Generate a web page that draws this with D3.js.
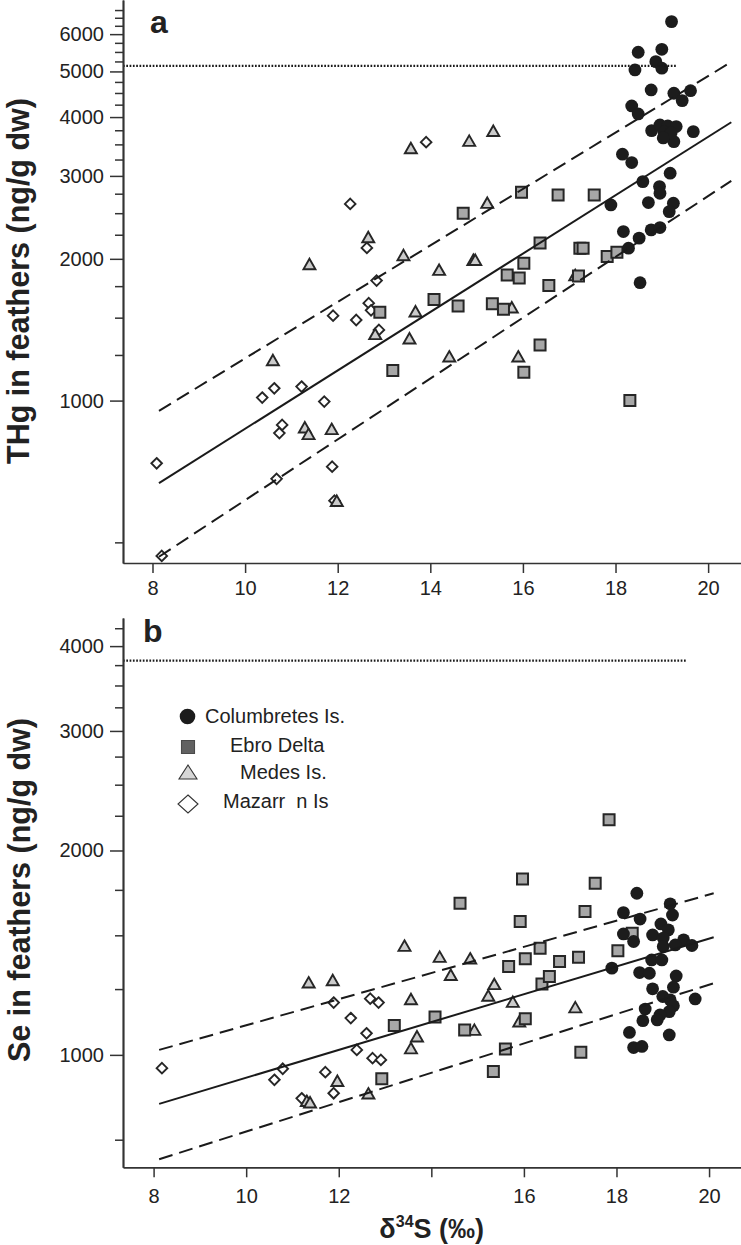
<!DOCTYPE html>
<html><head><meta charset="utf-8">
<script src="https://cdn.jsdelivr.net/npm/d3@7"></script>
<style>
html,body{margin:0;padding:0;background:#fff;}
svg{display:block;}
text{font-family:"Liberation Sans",Arial,Helvetica,sans-serif;fill:#222;}
</style></head><body>
<svg id="chart" width="741" height="1245"></svg>
<script>
// ---------------- DATA ----------------
const xTickValues = [8, 10, 12, 14, 16, 18, 20];
const xTickLabelsA = ["8", "10", "12", "14", "16", "18", "20"];
const xTickLabelsB = ["8", "10", "12", "", "16", "18", "20"];

const yMajorA = [1000, 2000, 3000, 4000, 5000, 6000];
const yMinorA = [500, 1250, 1500, 1750, 2250, 2500, 2750, 3250, 3500, 3750, 4250, 4500, 4750, 5250, 5500, 5750, 6250, 6500, 6750];
const yMajorB = [1000, 2000, 3000, 4000];
const yMinorB = [750, 1250, 1500, 1750, 2250, 2500, 2750, 3250, 3500, 3750, 4250];

const groups = ["Columbretes Is.", "Ebro Delta", "Medes Is.", "Mazarr  n Is"];

// Panel a: THg (ng/g dw) vs d34S
const columbretesA = [[19.21,6378],[18.49,5492],[19.00,5572],[18.42,5036],[18.87,5245],[19.00,5080],[18.77,4567],[19.26,4494],[19.62,4550],[19.44,4335],[18.35,4224],[18.49,4062],[18.78,3743],[18.96,3848],[19.13,3829],[19.31,3818],[19.11,3665],[19.26,3547],[19.05,3720],[19.20,3700],[19.03,3613],[19.68,3725],[18.15,3336],[18.35,3202],[19.18,3040],[18.59,2917],[18.95,2847],[18.96,2756],[17.90,2603],[18.71,2633],[19.25,2625],[19.16,2519],[18.17,2285],[18.51,2213],[18.77,2304],[18.96,2330],[18.28,2107],[18.53,1780]];
const ebroA = [[12.91,1541],[13.19,1158],[14.08,1640],[14.60,1589],[14.71,2500],[15.34,1605],[15.58,1563],[15.66,1849],[15.92,1820],[15.97,2770],[16.02,1957],[16.02,1149],[16.37,2160],[16.37,1313],[16.56,1755],[16.76,2734],[17.20,1840],[17.23,2107],[17.30,2107],[17.54,2734],[17.82,2022],[18.03,2065],[18.31,1000]];
const medesA = [[10.60,1214],[11.29,874],[11.37,846],[11.87,867],[11.98,610],[11.39,1941],[12.66,2215],[12.81,1379],[13.42,2028],[13.55,1350],[13.58,3422],[13.68,1541],[14.19,1888],[14.41,1236],[14.84,3548],[14.93,1982],[14.97,1982],[15.23,2620],[15.36,3725],[15.76,1571],[15.90,1236],[17.13,1840]];
const mazarronA = [[8.09,736],[8.20,468],[10.37,1015],[10.63,1062],[10.68,682],[10.74,853],[10.80,888],[11.22,1071],[11.71,995],[11.88,724],[11.90,1515],[11.93,613],[12.27,2616],[12.40,1483],[12.63,2110],[12.67,1610],[12.72,1555],[12.84,1798],[12.89,1413],[13.91,3538]];

// Panel b: Se (ng/g dw) vs d34S
const columbretesB = [[18.44,1730],[18.15,1620],[19.16,1669],[19.21,1607],[18.51,1585],[18.96,1559],[19.12,1528],[18.15,1507],[18.37,1469],[18.78,1502],[19.01,1486],[19.01,1444],[19.45,1477],[19.27,1452],[19.63,1449],[18.76,1380],[18.98,1380],[17.90,1342],[18.50,1322],[18.71,1319],[19.29,1307],[19.23,1258],[18.78,1251],[19.00,1219],[19.16,1205],[19.70,1209],[19.23,1181],[18.62,1168],[19.14,1158],[18.94,1145],[18.57,1123],[18.88,1126],[18.28,1079],[19.14,1070],[18.37,1025],[18.55,1029]];
const ebroB = [[12.93,922],[13.20,1105],[14.08,1137],[14.62,1673],[14.72,1088],[15.34,945],[15.60,1020],[15.67,1349],[15.92,1572],[15.97,1816],[16.03,1385],[16.03,1130],[16.35,1436],[16.39,1272],[16.55,1304],[16.77,1372],[17.18,1393],[17.23,1009],[17.32,1626],[17.54,1790],[17.84,2219],[18.03,1424],[18.34,1511]];
const medesB = [[11.35,1275],[11.87,1285],[11.97,913],[11.31,853],[11.38,849],[12.64,875],[13.42,1444],[14.18,1391],[14.84,1383],[14.42,1308],[15.36,1268],[15.23,1219],[13.56,1205],[15.76,1194],[17.11,1172],[15.90,1117],[14.93,1086],[13.69,1062],[13.56,1020]];
const mazarronB = [[8.18,956],[10.61,919],[10.79,954],[11.20,863],[11.71,943],[11.89,878],[11.89,1194],[12.26,1133],[12.39,1017],[12.68,1210],[12.86,1194],[12.60,1076],[12.73,989],[12.91,983]];

// regression line and prediction bands (end points)
const fitXA = [8.14, 20.5];
const fitA = [668, 3900];
const upperA = [951, 5237];
const lowerA = [466, 2928];
const fitXB = [8.12, 20.1];
const fitB = [847, 1490];
const upperB = [1017, 1730];
const lowerB = [702, 1275];

// threshold (dotted) lines
const thrA = 5140, thrEndA = 19.32;
const thrB = 3808, thrEndB = 19.5;

// ---------------- DRAWING ----------------
const svg = d3.select("#chart");
const INK = "#262626";

const shapes = {
  circle: d3.symbol().type(d3.symbolCircle).size(Math.PI * 6.4 * 6.4)(),
  square: "M-5.5,-5.5H5.5V5.5H-5.5Z",
  triangle: "M0,-6.2L6,4.3H-6Z",
  diamond: "M0,-5.3L5.3,0L0,5.3L-5.3,0Z"
};

function drawPanel(cfg) {
  const x = d3.scaleLinear().domain(cfg.xDomain).range([123, 741]);
  const y = d3.scaleLog().domain(cfg.yDomain).range([cfg.yBottom, cfg.yTop]);
  const g = svg.append("g");

  // markers
  const series = [
    {data: cfg.mazarron, d: shapes.diamond, fill: "#fff", stroke: INK, sw: 1.9},
    {data: cfg.medes, d: shapes.triangle, fill: "#cbcbcb", stroke: INK, sw: 1.9},
    {data: cfg.ebro, d: shapes.square, fill: "#a7a7a7", stroke: INK, sw: 2},
    {data: cfg.columbretes, d: shapes.circle, fill: "#1c1c1c", stroke: "none", sw: 0}
  ];
  series.forEach(s => {
    g.append("g").selectAll("path").data(s.data).join("path")
      .attr("d", s.d)
      .attr("transform", d => `translate(${x(d[0])},${y(d[1])})`)
      .attr("fill", s.fill).attr("stroke", s.stroke).attr("stroke-width", s.sw);
  });

  // lines
  const line = d3.line().x(d => x(d[0])).y(d => y(d[1]));
  const mk = vals => cfg.fitX.map((xv, i) => [xv, vals[i]]);
  g.append("path").attr("d", line(mk(cfg.fit))).attr("fill", "none").attr("stroke", "#1a1a1a").attr("stroke-width", 2);
  [cfg.upper, cfg.lower].forEach(v => {
    g.append("path").attr("d", line(mk(v))).attr("fill", "none").attr("stroke", "#1a1a1a")
      .attr("stroke-width", 2).attr("stroke-dasharray", "14,7");
  });
  g.append("path").attr("d", line([[cfg.xDomain[0], cfg.thr], [cfg.thrEnd, cfg.thr]]))
    .attr("fill", "none").attr("stroke", "#1a1a1a").attr("stroke-width", 2.2).attr("stroke-dasharray", "1.7,1.6");

  // y axis: minor ticks
  const yMinorAxis = d3.axisLeft(y).tickValues(cfg.yMinor).tickSize(8).tickSizeOuter(0).tickFormat("");
  const gm = g.append("g").attr("transform", "translate(123,0)").call(yMinorAxis);
  // y axis: major ticks
  const yMajorAxis = d3.axisLeft(y).tickValues(cfg.yMajor).tickSize(13).tickSizeOuter(0).tickPadding(6).tickFormat(d3.format("d"));
  const gy = g.append("g").attr("transform", "translate(123,0)").call(yMajorAxis);
  // x axis
  const xAxis = d3.axisBottom(x).tickValues(xTickValues).tickSize(10).tickSizeOuter(0)
    .tickPadding(cfg.xPad).tickFormat((d, i) => cfg.xLabels[i]);
  const gx = g.append("g").attr("transform", `translate(0,${cfg.yBottom})`).call(xAxis);

  [gm, gy, gx].forEach(a => {
    a.selectAll("path.domain").attr("stroke", "#333").attr("stroke-width", 1.7);
    a.selectAll("line").attr("stroke", "#333").attr("stroke-width", 1.5);
    a.selectAll("text").attr("font-size", 20).attr("fill", "#222")
      .attr("font-family", '"Liberation Sans",Arial,sans-serif');
  });

  // panel letter
  g.append("text").attr("x", cfg.letterX).attr("y", cfg.letterY).attr("font-size", 32)
    .attr("font-weight", "bold").text(cfg.letter);

  // y label
  g.append("text").attr("transform", `translate(${cfg.ylabX},${cfg.ylabY}) rotate(-90)`)
    .attr("text-anchor", "middle").attr("font-size", 30.5).attr("font-weight", "bold")
    .text(cfg.ylabel);
  return {x, y};
}

drawPanel({
  xDomain: [7.363, 20.71], yDomain: [452, 7090], yBottom: 563, yTop: 0,
  yMajor: yMajorA, yMinor: yMinorA, xLabels: xTickLabelsA, xPad: 8,
  columbretes: columbretesA, ebro: ebroA, medes: medesA, mazarron: mazarronA,
  fitX: fitXA, fit: fitA, upper: upperA, lower: lowerA, thr: thrA, thrEnd: thrEndA,
  letter: "a", letterX: 150, letterY: 33,
  ylabel: "THg in feathers (ng/g dw)", ylabX: 29, ylabY: 281
});

drawPanel({
  xDomain: [7.339, 20.69], yDomain: [683, 4400], yBottom: 1167.3, yTop: 618,
  yMajor: yMajorB, yMinor: yMinorB, xLabels: xTickLabelsB, xPad: 12,
  columbretes: columbretesB, ebro: ebroB, medes: medesB, mazarron: mazarronB,
  fitX: fitXB, fit: fitB, upper: upperB, lower: lowerB, thr: thrB, thrEnd: thrEndB,
  letter: "b", letterX: 143, letterY: 641.5,
  ylabel: "Se in feathers (ng/g dw)", ylabX: 30, ylabY: 890
});

// legend (panel b)
const legend = svg.append("g");
const legendSymbols = [
  {d: d3.symbol().type(d3.symbolCircle).size(Math.PI * 7.8 * 7.8)(), fill: "#1c1c1c", stroke: "none", cx: 187.5, cy: 716.5, tx: 205, ty: 723},
  {d: "M-6.5,-6.5H6.5V6.5H-6.5Z", fill: "#616161", stroke: "#4a4a4a", cx: 188, cy: 747, tx: 230, ty: 752},
  {d: "M0,-8L9,6H-9Z", fill: "#d6d6d6", stroke: "#333", cx: 188, cy: 773, tx: 240, ty: 779},
  {d: "M0,-9L10,0L0,9L-10,0Z", fill: "#fff", stroke: "#333", cx: 188, cy: 804, tx: 223, ty: 808}
];
legendSymbols.forEach((s, i) => {
  legend.append("path").attr("d", s.d).attr("transform", `translate(${s.cx},${s.cy})`)
    .attr("fill", s.fill).attr("stroke", s.stroke).attr("stroke-width", 1.1);
  legend.append("text").attr("x", s.tx).attr("y", s.ty).attr("font-size", 20)
    .style("white-space", "pre").text(groups[i]);
});

// x axis title
const xt = svg.append("text").attr("x", 431.7).attr("y", 1238).attr("text-anchor", "middle")
  .attr("font-weight", "bold").attr("font-size", 27);
xt.append("tspan").text("δ");
xt.append("tspan").attr("font-size", 16).attr("dy", -11).text("34");
xt.append("tspan").attr("dy", 11).text("S (‰)");
</script>
</body></html>
